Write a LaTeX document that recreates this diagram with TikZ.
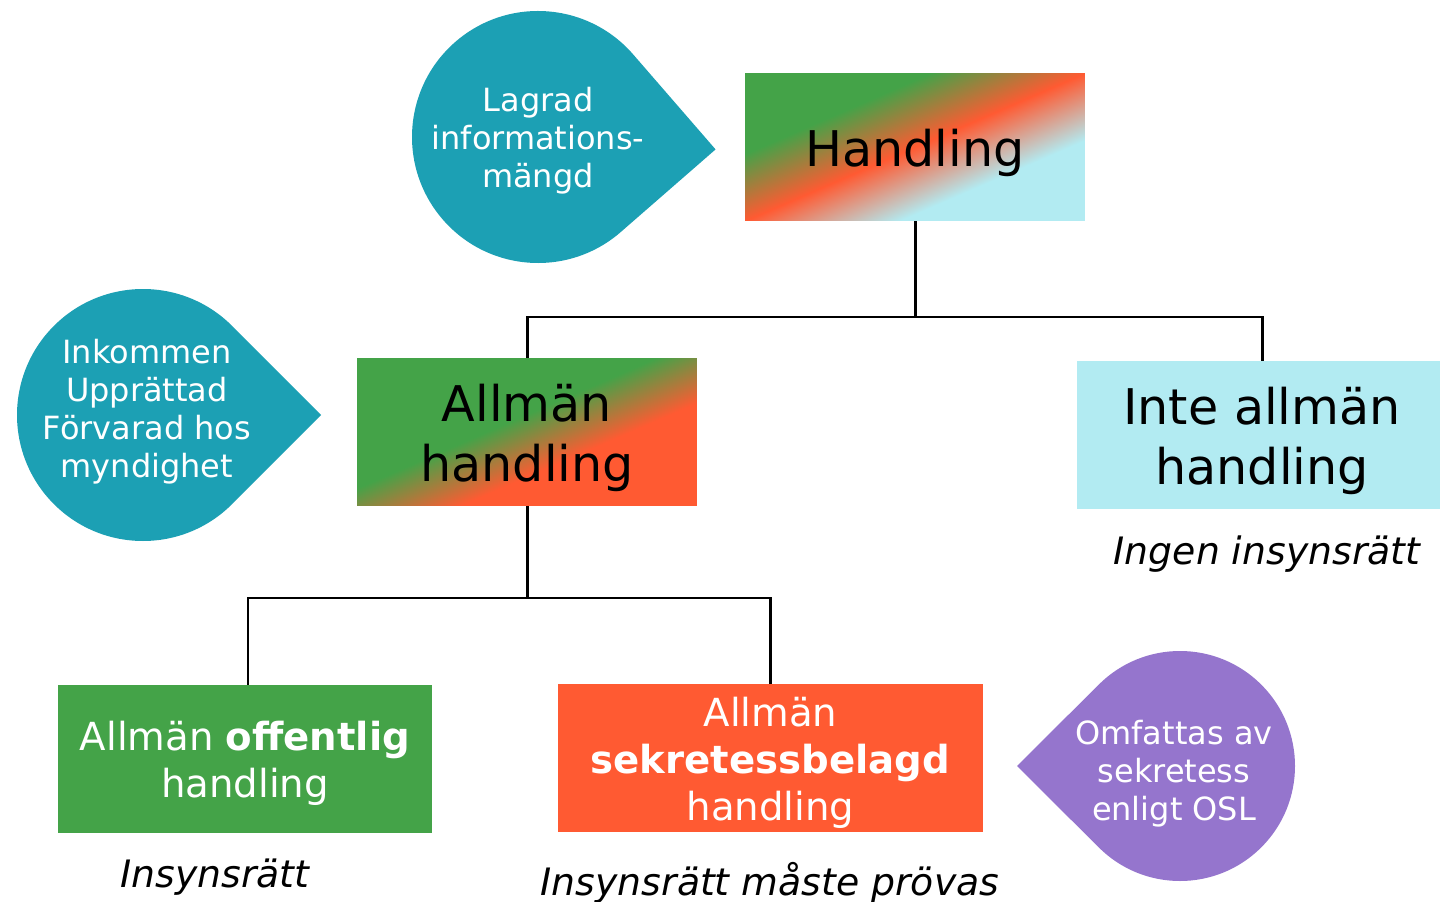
\documentclass[tikz,border=0pt]{standalone}
\usepackage{fontspec}
\setmainfont{DejaVu Sans}
\usepackage{xcolor}
\usetikzlibrary{positioning,calc}

\definecolor{dropteal}{HTML}{1CA0B4}
\definecolor{droppurple}{HTML}{9575CD}
\definecolor{boxgreen}{HTML}{44A348}
\definecolor{boxorange}{HTML}{FF5A32}
\definecolor{boxcyan}{HTML}{B2EBF2}
\pgfdeclarehorizontalshading{handshade}{100bp}{color(0bp)=(boxgreen); color(35bp)=(boxgreen); color(50bp)=(boxorange); color(65bp)=(boxcyan); color(100bp)=(boxcyan)}
\pgfdeclarehorizontalshading{allmshade}{100bp}{color(0bp)=(boxgreen); color(46bp)=(boxgreen); color(60bp)=(boxorange); color(100bp)=(boxorange)}
\newcommand\upstrut{\rule{0pt}{1.005em}}

\begin{document}
\begin{tikzpicture}[x=0.02cm,y=-0.02cm,
  box/.style={inner sep=0pt,minimum height=2.96cm,align=center},
  bigtxt/.style={font=\fontsize{28}{34}\selectfont},
  midtxt/.style={font=\fontsize{22}{26.7}\selectfont,text=white},
  droptxt/.style={font=\fontsize{18.2}{21.6}\selectfont,text=white,align=center,inner sep=0pt},
  note/.style={font=\fontsize{21.5}{26}\selectfont\itshape,anchor=base,inner sep=0pt},
  conn/.style={line width=1.7pt}]
\fill[white] (0,0) rectangle (1440,902);
\useasboundingbox (0,0) rectangle (1440,902);

% drops
\coordinate (dA) at (538,137);
\coordinate (dB) at (143,415);
\coordinate (dC) at (1180,766);
\fill[dropteal] ($(dA)+(49:126)$) arc[start angle=49,end angle=319,radius=126] -- ($(dA)+(4:178)$) -- cycle;
\fill[dropteal] ($(dB)+(45:126)$) arc[start angle=45,end angle=315,radius=126] -- ($(dB)+(0:178)$) -- cycle;
\fill[droppurple] ($(dC)+(135:115)$) arc[start angle=135,end angle=-135,radius=115] -- ($(dC)+(180:163)$) -- cycle;
\node[droptxt] (lagr) at (538,137) {\upstrut Lagrad\\informations-\\mängd};
\node[droptxt] (inko) at (147,408) {\upstrut Inkommen\\Upprättad\\Förvarad hos\\myndighet};
\node[droptxt] (omfa) at (1174,770) {\upstrut Omfattas av\\sekretess\\enligt OSL};

% boxes
\node[box,shade,shading=handshade,shading angle=-66.5,minimum width=6.8cm,bigtxt] (hand) at (915,147) {\upstrut Handling};
\node[box,shade,shading=allmshade,shading angle=-66.5,minimum width=6.8cm,bigtxt] (allm) at (527,432) {\upstrut Allmän\\handling};
\node[box,fill=boxcyan,minimum width=7.4cm,bigtxt] (inte) at (1262,435) {\upstrut Inte allmän\\handling};
\node[box,fill=boxgreen,minimum width=7.48cm,midtxt] (offe) at (245,759) {\upstrut Allmän \textbf{offentlig}\\handling};
\node[box,fill=boxorange,minimum width=8.5cm,midtxt] (sekr) at (770.5,758) {\upstrut Allmän\\\textbf{sekretessbelagd}\\handling};

% tree lines
\coordinate (jA) at (915,317);
\coordinate (jB) at (527,598);
\draw[conn] (hand.south) -- (jA) -| (allm.north);
\draw[conn] (jA) -| (inte.north);
\draw[conn] (allm.south) -- (jB) -| ([xshift=0.06cm]offe.north);
\draw[conn] (jB) -| (sekr.north);

% rights
\node[note] (ingen) at (1267,564) {Ingen insynsrätt};
\node[note] (insyn) at (215,887) {Insynsrätt};
\node[note] (prova) at (770,895) {Insynsrätt måste prövas};
\end{tikzpicture}
\end{document}
